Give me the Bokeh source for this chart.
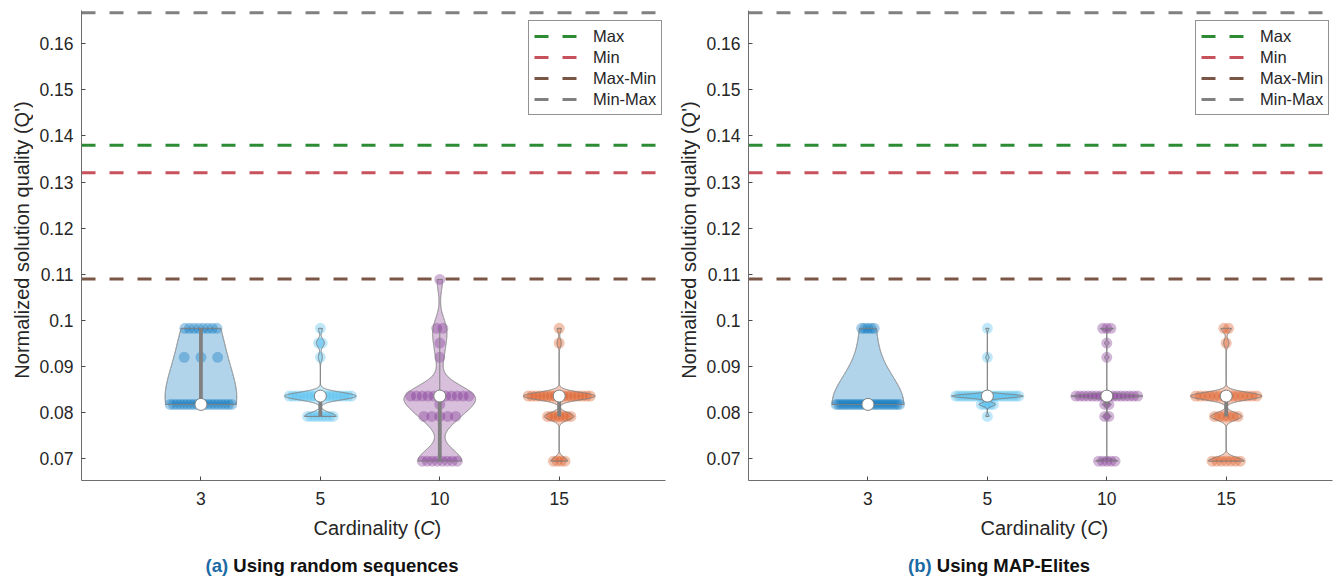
import numpy as np
from bokeh.plotting import figure
from bokeh.layouts import row, column
from bokeh.models import FixedTicker, Label, Legend, LegendItem, Range1d
from bokeh.embed import file_html
from bokeh.resources import INLINE

FONT = "Liberation Sans"

# ---------------- data ----------------
categories = ["3", "5", "10", "15"]
levels = [0.0695, 0.0792, 0.0818, 0.0836, 0.0920, 0.0951, 0.0983, 0.1089]

# number of runs at each level (panel a: random sequences)
rand_c3 = [0, 0, 19, 0, 3, 0, 8, 0]
rand_c5 = [0, 8, 0, 18, 1, 2, 1, 0]
rand_c10 = [8, 5, 1, 11, 1, 1, 2, 1]
rand_c15 = [4, 7, 0, 17, 0, 1, 1, 0]
# panel b: MAP-Elites
map_c3 = [0, 0, 25, 0, 0, 0, 5, 0]
map_c5 = [0, 1, 5, 22, 1, 0, 1, 0]
map_c10 = [5, 2, 2, 16, 1, 1, 3, 0]
map_c15 = [7, 6, 0, 14, 0, 1, 2, 0]

rand_bw = [0.0075, 0.0008, 0.0025, 0.0008]
map_bw = [0.0065, 0.0004, 0.00035, 0.0008]

ref_names = ["Max", "Min", "Max-Min", "Min-Max"]
ref_values = [0.138, 0.132, 0.109, 0.1667]
ref_colors = ["#2e8b35", "#c8525c", "#7a5647", "#808080"]
group_colors = ["#0072BD", "#4DBEEE", "#7E2F8E", "#D95319"]

y_ticks = [0.07, 0.08, 0.09, 0.1, 0.11, 0.12, 0.13, 0.14, 0.15, 0.16]
y_tick_labels = ["0.07", "0.08", "0.09", "0.1", "0.11", "0.12", "0.13", "0.14", "0.15", "0.16"]
x_lims = (0.0, 4.89)
y_lims = (0.0653, 0.1672)

x_label_parts = ["Cardinality (", "C", ")"]
y_label = "Normalized solution quality (Q')"

# Arial/Liberation Sans advance widths (per 1000 em)
AR = {"N": 722, "o": 556, "r": 333, "m": 833, "a": 556, "l": 222, "i": 222, "z": 500,
      "e": 556, "d": 556, " ": 278, "s": 500, "u": 556, "t": 278, "n": 556, "q": 556,
      "y": 500, "(": 333, ")": 333, "Q": 778, "'": 191, "C": 722}
AB = {"(": 333, "a": 556, ")": 333, "b": 611, " ": 278, "U": 722, "s": 556, "i": 278,
      "n": 611, "g": 611, "r": 389, "d": 611, "o": 611, "m": 889, "e": 556, "q": 611,
      "u": 611, "c": 556, "M": 833, "A": 722, "P": 667, "-": 333, "E": 667, "l": 278, "t": 333}


def tw(s, table, size):
    return sum(table[c] for c in s) / 1000.0 * size


def text_fig(w, h):
    f = figure(width=w, height=h, x_range=Range1d(0, w), y_range=Range1d(0, h),
               min_border=0, x_axis_location=None, y_axis_location=None,
               output_backend="svg", toolbar_location=None, tools="")
    f.xgrid.visible = False
    f.ygrid.visible = False
    f.outline_line_color = None
    f.background_fill_color = "white"
    f.border_fill_color = "white"
    return f


def put(f, h, x, y_top, text, size, style="normal", color="#262626", angle=0.0, align="left"):
    f.add_layout(Label(x=x, y=h - y_top, text=text, text_font=FONT, text_font_size=f"{size}px",
                       text_font_style=style, text_color=color, text_align=align,
                       text_baseline="middle", angle=angle))


MAIN_H = 515
YL_W = 33


def make_panel(total_w, right_border, counts_list, bw_list, tag, caption):
    main_w = total_w - YL_W
    p = figure(width=main_w, height=MAIN_H, x_range=Range1d(*x_lims), y_range=Range1d(*y_lims),
               min_border_left=48, min_border_right=right_border, min_border_top=10,
               min_border_bottom=35, output_backend="svg", toolbar_location=None, tools="")
    p.xgrid.visible = False
    p.ygrid.visible = False
    p.outline_line_color = None
    p.background_fill_color = "white"
    p.border_fill_color = "white"

    for ax in (p.xaxis[0], p.yaxis[0]):
        ax.axis_line_color = "#6e6e6e"
        ax.axis_line_width = 1
        ax.major_tick_line_color = "#4a4a4a"
        ax.major_tick_in = 4
        ax.major_tick_out = 0
        ax.minor_tick_line_color = None
        ax.major_label_text_font = FONT
        ax.major_label_text_font_size = "17.5px"
        ax.major_label_text_color = "#262626"
    p.xaxis.ticker = FixedTicker(ticks=[1, 2, 3, 4])
    p.xaxis.major_label_overrides = {i + 1: c for i, c in enumerate(categories)}
    p.xaxis.major_label_standoff = 11
    p.yaxis.ticker = FixedTicker(ticks=y_ticks)
    p.yaxis.major_label_overrides = dict(zip(y_ticks, y_tick_labels))
    p.yaxis.major_label_standoff = 8

    # reference lines
    items = []
    for name, v, c in zip(ref_names, ref_values, ref_colors):
        r = p.line(x=list(x_lims), y=[v, v], line_color=c, line_width=3, line_dash="14 14")
        items.append(LegendItem(label=name, renderers=[r]))

    lv = np.array(levels)
    for gi, (counts, bw, col) in enumerate(zip(counts_list, bw_list, group_colors)):
        pos = gi + 1
        vals = np.repeat(lv, counts)
        lo, hi = vals.min(), vals.max()
        ys = np.linspace(lo, hi, 1500)
        dens = np.exp(-0.5 * ((ys[:, None] - vals[None, :]) / bw) ** 2).sum(axis=1)
        dmax = dens.max()
        hw = 0.3 * dens / dmax
        px, py = [], []
        for v, k in zip(lv, counts):
            if k == 0:
                continue
            d = np.exp(-0.5 * ((v - vals) / bw) ** 2).sum()
            w = 0.3 * d / dmax * 0.92
            for i in range(k):
                off = 0.0 if k == 1 else w * (2 * (i + 0.5) / k - 1)
                px.append(pos + off)
                py.append(v)
        p.scatter(px, py, size=11, fill_color=col, fill_alpha=0.35, line_color=None)
        xs = np.concatenate([pos - hw, (pos + hw)[::-1]])
        yy = np.concatenate([ys, ys[::-1]])
        p.patch(xs, yy, fill_color=col, fill_alpha=0.3, line_color="#7f7f7f", line_width=1)
        q1, med, q3 = np.percentile(vals, [25, 50, 75], method="hazen")
        iqr = q3 - q1
        upper = vals[vals <= q3 + 1.5 * iqr].max()
        lower = vals[vals >= q1 - 1.5 * iqr].min()
        p.segment(x0=[pos, pos], y0=[lower, q3], x1=[pos, pos], y1=[q1, upper],
                  line_color="#808080", line_width=1)
        if q3 > q1:
            p.quad(left=[pos - 0.016], right=[pos + 0.016], bottom=[q1], top=[q3],
                   fill_color="#808080", line_color=None)
        p.scatter([pos], [med], size=12, fill_color="white", line_color="#808080", line_width=1)

    legend = Legend(items=items, location=(447, 365), padding=5, spacing=1,
                    label_height=20, glyph_height=20, glyph_width=44, label_standoff=15,
                    label_text_font=FONT, label_text_font_size="16.5px",
                    label_text_color="#262626", border_line_color="#262626",
                    border_line_width=1, background_fill_color="white", background_fill_alpha=1.0,
                    margin=0)
    p.add_layout(legend)

    # y-axis label strip
    yl = text_fig(YL_W, MAIN_H)
    fs = 20
    put(yl, MAIN_H, 21.7, 251.5, y_label, fs, angle=np.pi / 2, align="center")

    # x-axis label and caption strip
    SH = 579 - MAIN_H
    st = text_fig(total_w, SH)
    x0 = 81 + 232
    acc = 0.0
    for part, style in zip(x_label_parts, ["normal", "italic", "normal"]):
        put(st, SH, x0 + acc, 527 - MAIN_H, part, fs, style=style)
        acc += tw(part, AR, fs)
    cs = 18.5
    ctot = tw(tag + " " + caption, AB, cs)
    cx0 = 331.5 - ctot / 2
    put(st, SH, cx0, 565 - MAIN_H, tag, cs, style="bold", color="#1b6aa5")
    put(st, SH, cx0 + tw(tag + " ", AB, cs), 565 - MAIN_H, caption, cs, style="bold", color="#111111")

    return column(row(yl, p), st)


left = make_panel(667, 2, [rand_c3, rand_c5, rand_c10, rand_c15], rand_bw,
                  "(a)", "Using random sequences")
right = make_panel(673, 8, [map_c3, map_c5, map_c10, map_c15], map_bw,
                   "(b)", "Using MAP-Elites")

layout = row(left, right)
open("out.html", "w").write(file_html(layout, INLINE))
